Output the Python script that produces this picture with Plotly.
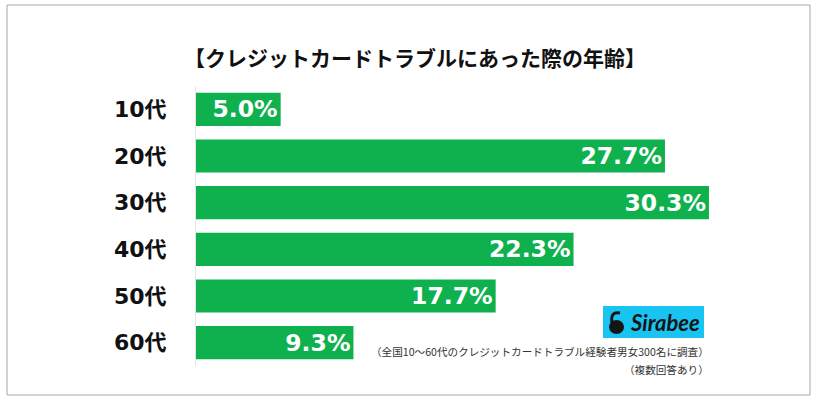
import plotly.graph_objects as go

# data
age_groups = ["10代", "20代", "30代", "40代", "50代", "60代"]
shares = [5.0, 27.7, 30.3, 22.3, 17.7, 9.3]
share_labels = ["5.0%", "27.7%", "30.3%", "22.3%", "17.7%", "9.3%"]

title_text = "【クレジットカードトラブルにあった際の年齢】"
note_1 = "（全国10～60代のクレジットカードトラブル経験者男女300名に調査）"
note_2 = "（複数回答あり）"

W, H = 819, 405
JP = "Noto Sans CJK JP"


def px_x(v):
    return v / W


def px_y(v):
    return 1 - v / H


fig = go.Figure()

fig.add_trace(
    go.Bar(
        x=shares,
        y=age_groups,
        orientation="h",
        marker=dict(color="#0fb14e", line=dict(width=0)),
        text=share_labels,
        textposition="inside",
        insidetextanchor="end",
        textfont=dict(family="DejaVu Sans", size=26, color="white", weight="bold"),
        cliponaxis=False,
        hoverinfo="skip",
    )
)

fig.update_layout(
    width=W,
    height=H,
    margin=dict(l=0, r=0, t=0, b=0),
    paper_bgcolor="white",
    plot_bgcolor="white",
    showlegend=False,
    bargap=0.29,
    uniformtext=dict(minsize=8, mode="show"),
    xaxis=dict(
        domain=[px_x(196), px_x(720)],
        range=[0, 524 / 16.93],
        visible=False,
        fixedrange=True,
    ),
    yaxis=dict(
        domain=[px_y(366), px_y(86)],
        autorange="reversed",
        showline=True,
        linecolor="#e4e4e4",
        linewidth=1,
        showgrid=False,
        ticks="",
        ticklabelstandoff=24,
        # digits in a wide bold sans, 代 falls back to the CJK font
        tickfont=dict(family="DejaVu Sans, " + JP, size=22, color="#111111", weight="bold"),
        fixedrange=True,
    ),
)

# outer frame
fig.add_shape(
    type="rect", xref="paper", yref="paper",
    x0=px_x(7), x1=px_x(810), y0=px_y(395), y1=px_y(5),
    line=dict(color="#a8a8a8", width=1),
)

# title
fig.add_annotation(
    text=title_text, xref="paper", yref="paper",
    x=px_x(415), y=px_y(57), xanchor="center", yanchor="middle",
    showarrow=False,
    font=dict(family=JP, size=21, color="#111111", weight="bold"),
)

# Sirabee logo
fig.add_shape(
    type="rect", xref="paper", yref="paper",
    x0=px_x(603), x1=px_x(704), y0=px_y(338), y1=px_y(306),
    fillcolor="#19c3f2", line=dict(width=0),
)
fig.add_shape(
    type="circle", xref="paper", yref="paper",
    x0=px_x(609), x1=px_x(624), y0=px_y(334), y1=px_y(320),
    fillcolor="#151515", line=dict(width=0),
)
fig.add_shape(
    type="path", xref="paper", yref="paper",
    path="M %f,%f Q %f,%f %f,%f" % (
        px_x(612), px_y(323), px_x(610), px_y(311), px_x(620), px_y(313)),
    line=dict(color="#151515", width=3),
)
fig.add_annotation(
    text="<i><b>Sirabee</b></i>", xref="paper", yref="paper",
    x=px_x(665), y=px_y(322), xanchor="center", yanchor="middle",
    showarrow=False,
    font=dict(family="Lato", size=22, color="#151515"),
)

# footnotes
fig.add_annotation(
    text=note_1, xref="paper", yref="paper",
    x=px_x(711), y=px_y(351), xanchor="right", yanchor="middle",
    showarrow=False,
    font=dict(family=JP, size=10.6, color="#333333"),
)
fig.add_annotation(
    text=note_2, xref="paper", yref="paper",
    x=px_x(711), y=px_y(369), xanchor="right", yanchor="middle",
    showarrow=False,
    font=dict(family=JP, size=10.6, color="#333333"),
)

# page has a default body margin; drop it so the figure sits at 0,0
fig.write_html(
    "out.html",
    config={"displayModeBar": False},
    post_script="document.body.style.margin='0px';",
)
